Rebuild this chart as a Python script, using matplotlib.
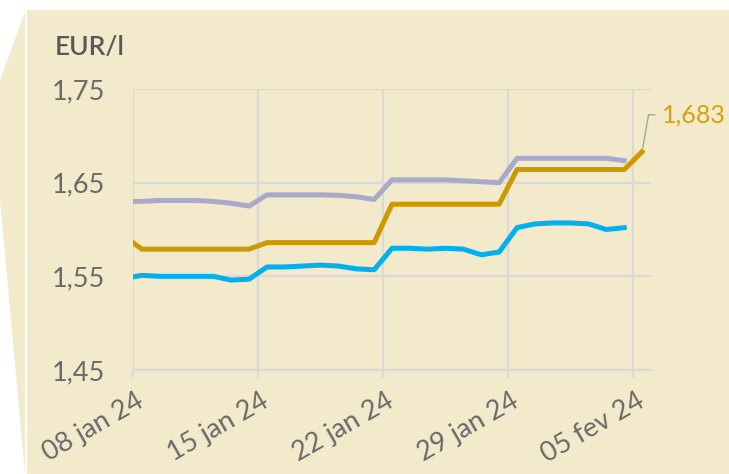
import numpy as np
import pandas as pd
import matplotlib
matplotlib.use('Agg')
import matplotlib.pyplot as plt
import matplotlib.transforms as mtransforms
from matplotlib.patches import Polygon, Rectangle

plt.rcParams['font.family'] = ['Lato', 'DejaVu Sans']

# daily values, 07 jan 24 .. 05 fev 24
dates = pd.date_range('2024-01-07', '2024-02-05', freq='D')

serie_lilas = [1.630, 1.630, 1.631, 1.631, 1.631, 1.630, 1.628, 1.625,
               1.637, 1.637, 1.637, 1.637, 1.6365, 1.635, 1.632,
               1.653, 1.653, 1.653, 1.653, 1.652, 1.651, 1.650,
               1.676, 1.676, 1.676, 1.676, 1.676, 1.676, 1.6735, np.nan]

serie_ouro = [1.593, 1.579, 1.579, 1.579, 1.579, 1.579, 1.579, 1.579,
              1.586, 1.586, 1.586, 1.586, 1.586, 1.586, 1.586,
              1.627, 1.627, 1.627, 1.627, 1.627, 1.627, 1.627,
              1.664, 1.664, 1.664, 1.664, 1.664, 1.664, 1.664, 1.683]

serie_azul = [1.548, 1.551, 1.550, 1.550, 1.550, 1.550, 1.546, 1.547,
              1.560, 1.560, 1.561, 1.562, 1.561, 1.558, 1.557,
              1.580, 1.580, 1.579, 1.580, 1.579, 1.573, 1.576,
              1.602, 1.606, 1.607, 1.607, 1.606, 1.600, 1.602, np.nan]

tick_dates = pd.to_datetime(['2024-01-08', '2024-01-15', '2024-01-22',
                             '2024-01-29', '2024-02-05'])
tick_labels = ['08 jan 24', '15 jan 24', '22 jan 24', '29 jan 24', '05 fev 24']
y_ticks = [1.45, 1.55, 1.65, 1.75]
y_labels = ['1,45', '1,55', '1,65', '1,75']
last_label = '1,683'

BEIGE = '#F3EACB'
GRID = '#D9D9D9'
TEXT = '#6A6A6A'

W, H = 729, 474
fig = plt.figure(figsize=(W / 100, H / 100), dpi=100, facecolor='white')

# background panels
fig.patches.append(Rectangle((27 / W, 0), 1 - 27 / W, 1 - 10 / H,
                             transform=fig.transFigure, facecolor=BEIGE,
                             edgecolor='none', zorder=-10))
fig.patches.append(Polygon([(25 / W, 1 - 12 / H), (0, 1 - 80 / H),
                            (0, 1 - 200 / H), (25 / W, 0)],
                           closed=True, transform=fig.transFigure,
                           facecolor=BEIGE, edgecolor='none', zorder=-10))

ax = fig.add_axes([133 / W, 1 - 370 / H, (651 - 133) / W, (370 - 89) / H])
ax.set_facecolor('none')

# points sit in the middle of each day
x = dates + pd.Timedelta(hours=12)
ax.plot(x, serie_azul, color='#00B0F0', lw=3.6, solid_joinstyle='round',
        zorder=3)
ax.plot(x, serie_ouro, color='#CC9900', lw=3.6, solid_joinstyle='round',
        zorder=3)
ax.plot(x, serie_lilas, color='#A9A9C9', lw=3.6, solid_joinstyle='round',
        zorder=3)

ax.set_xlim(tick_dates[0], tick_dates[-1] + pd.Timedelta(days=1))
ax.set_ylim(y_ticks[0], y_ticks[-1])

ax.set_yticks(y_ticks)
ax.set_yticklabels(y_labels)
ax.set_xticks(tick_dates)
ax.set_xticklabels(tick_labels, rotation=30, ha='right',
                   rotation_mode='anchor', va='center')

ax.grid(True, color=GRID, lw=1.6, zorder=0)
ax.set_axisbelow(True)
for side in ['top', 'right', 'left']:
    ax.spines[side].set_visible(False)
ax.spines['bottom'].set_color(GRID)
ax.spines['bottom'].set_linewidth(1.6)

ax.tick_params(axis='y', length=0, pad=20, labelsize=19.5, labelcolor=TEXT)
ax.tick_params(axis='x', length=6, width=1.6, color=GRID, pad=15,
               labelsize=19.5, labelcolor=TEXT)
offset = mtransforms.ScaledTranslation(9 / 100, 0, fig.dpi_scale_trans)
for lbl in ax.get_xticklabels():
    lbl.set_transform(lbl.get_transform() + offset)

fig.text(55 / W, 1 - 47 / H, 'EUR/l', fontsize=19, color='#595959',
         fontweight='semibold', va='center', ha='left')

# label on the last point
ax.annotate(last_label, xy=(x[-1], serie_ouro[-1]), xytext=(20, 37),
            textcoords='offset pixels', fontsize=18, color='#D4A20F',
            va='center', ha='left', annotation_clip=False,
            arrowprops=dict(arrowstyle='-', color='#A6A6A6', lw=1,
                            shrinkA=3, shrinkB=3,
                            connectionstyle='angle,angleA=0,angleB=80,rad=0'))

fig.savefig('out.png', dpi=100, facecolor=fig.get_facecolor())
